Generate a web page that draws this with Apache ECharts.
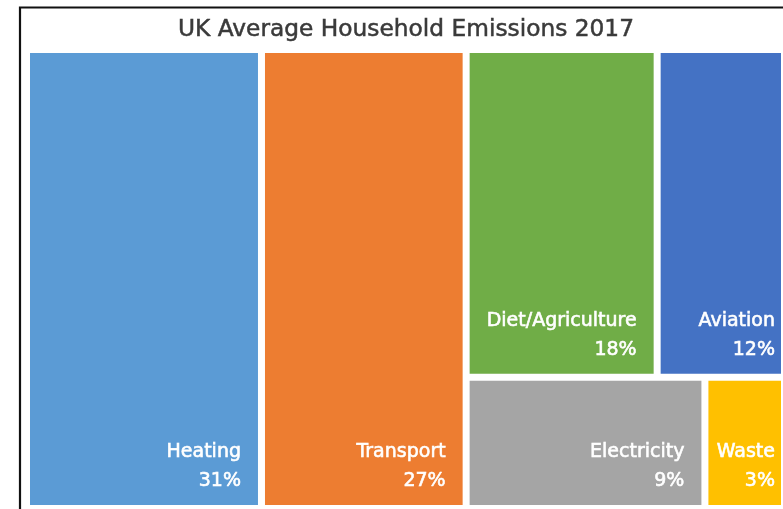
<!DOCTYPE html>
<html>
<head>
<meta charset="utf-8">
<script src="https://cdn.jsdelivr.net/npm/echarts@6/dist/echarts.min.js"></script>
<style>
  html, body { margin: 0; padding: 0; background: #ffffff; }
  #chart { width: 783px; height: 509px; }
</style>
</head>
<body>
<div id="chart"></div>
<script>
// ---- Data ----
const chartTitle = 'UK Average Household Emissions 2017';
const categories = ['Heating', 'Transport', 'Diet/Agriculture', 'Aviation', 'Electricity', 'Waste'];
const shares = [31, 27, 18, 12, 9, 3];

// ---- Styles ----
const colors = ['#5B9BD5', '#ED7D31', '#70AD47', '#4472C4', '#A5A5A5', '#FFC000'];
const FONT = 'DejaVu Sans';

function leaf(i) {
  const edge = (i === 3 || i === 5); // cells touching the right edge of the plot
  return {
    name: categories[i],
    value: shares[i],
    itemStyle: { color: colors[i] },
    label: { padding: [0, edge ? 6 : 17, 9, 0] }
  };
}

// Nested grouping reproduces the reference layout (two columns, then a 2x2 block)
const treeData = [
  { name: 'g1', children: [leaf(0), leaf(1)] },
  { name: 'g2', children: [
      { name: 'g2a', children: [leaf(2), leaf(3)] },
      { name: 'g2b', children: [leaf(4), leaf(5)] }
  ] }
];

const chart = echarts.init(document.getElementById('chart'), null, { renderer: 'canvas' });
chart.setOption({
  animation: false,
  backgroundColor: '#ffffff',
  graphic: [
    {
      type: 'rect',
      shape: { x: 20, y: 7.5, width: 900, height: 700 },
      style: { fill: 'none', stroke: '#111111', lineWidth: 2.2 },
      silent: true
    },
    {
      type: 'text',
      x: 406, y: 29.5,
      style: {
        text: chartTitle,
        fontFamily: FONT, fontSize: 23.3,
        fill: '#3a3a3a',
        stroke: '#3a3a3a', lineWidth: 0.5,
        align: 'center', verticalAlign: 'middle'
      },
      silent: true
    }
  ],
  series: [{
    type: 'treemap',
    left: 30, top: 53, width: 751, height: 452,
    squareRatio: 1.5,
    roam: false,
    nodeClick: false,
    breadcrumb: { show: false },
    itemStyle: { gapWidth: 7, borderWidth: 0, borderColor: '#ffffff' },
    upperLabel: { show: false },
    label: {
      show: true,
      position: 'insideBottomRight',
      distance: 0,
      formatter: p => p.name + '\n' + p.value + '%',
      color: '#ffffff',
      textBorderColor: '#ffffff',
      textBorderWidth: 0.6,
      fontFamily: FONT,
      fontSize: 19,
      lineHeight: 29,
      align: 'right'
    },
    emphasis: { disabled: true },
    data: treeData
  }]
});
</script>
</body>
</html>
